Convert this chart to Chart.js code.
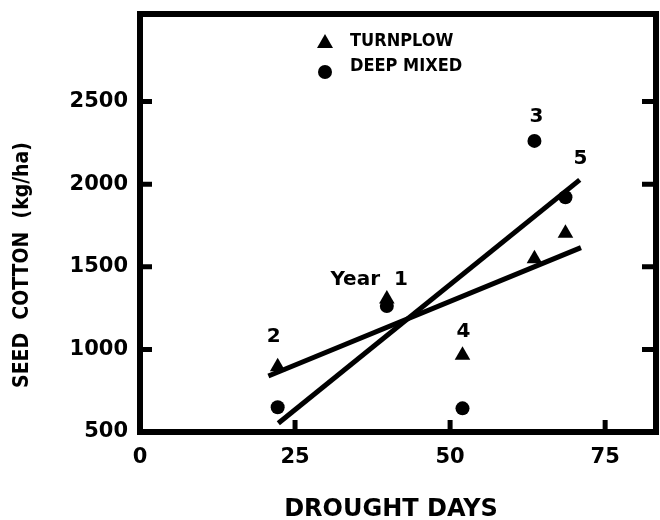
<!DOCTYPE html>
<html>
<head>
<meta charset="utf-8">
<script src="https://cdn.jsdelivr.net/npm/chart.js@4/dist/chart.umd.min.js"></script>
<style>
  html, body { margin: 0; padding: 0; background: #fff; }
</style>
</head>
<body>
<canvas id="myChart" width="660" height="520"></canvas>
<script>
// values
const years = ['1', '2', '3', '4', '5'];
const droughtDays = [39.8, 22.2, 63.6, 52.0, 68.6];
const turnplowYield = [1305, 895, 1548, 965, 1703];
const deepMixedYield = [1263, 650, 2262, 643, 1921];

// fitted lines, end points
const turnplowFitDays = [20.7, 71.1];
const turnplowFitYield = [839, 1616];
const deepMixedFitDays = [22.3, 70.9];
const deepMixedFitYield = [553, 2026];

const xTicks = [0, 25, 50, 75];
const yTicks = [500, 1000, 1500, 2000, 2500];

const FONT = "'DejaVu Sans', sans-serif";
const COND = "'DejaVu Sans Condensed', 'DejaVu Sans', sans-serif";

const toPoints = (xs, ys) => xs.map((x, i) => ({ x: x, y: ys[i] }));

// year labels, pixel offsets from the upper point of each year
const labelOffsets = [[21, -19, 'right'], [-4, -30, 'center'], [2, -24, 'center'], [1, -23, 'center'], [15, -38, 'center']];

const noPadding = s => {
  s.paddingTop = 0; s.paddingBottom = 0;
  s.paddingLeft = 0; s.paddingRight = 0;
};

const decorations = {
  id: 'decorations',
  beforeDraw(chart) {
    const { ctx } = chart;
    ctx.save();
    ctx.fillStyle = '#fff';
    ctx.fillRect(0, 0, chart.width, chart.height);
    ctx.restore();
  },
  afterDraw(chart) {
    const { ctx, chartArea: a, scales: { x, y } } = chart;
    ctx.save();
    ctx.strokeStyle = '#000';
    ctx.fillStyle = '#000';

    // top and right side of the box
    ctx.lineWidth = 6;
    ctx.beginPath();
    ctx.moveTo(a.left - 3, a.top);
    ctx.lineTo(a.right, a.top);
    ctx.lineTo(a.right, a.bottom + 3);
    ctx.stroke();

    // ticks pointing inward
    ctx.lineWidth = 5;
    ctx.beginPath();
    y.ticks.forEach(t => {
      if (t.value <= y.min) return;
      const py = y.getPixelForValue(t.value);
      ctx.moveTo(a.left, py); ctx.lineTo(a.left + 12, py);
      ctx.moveTo(a.right, py); ctx.lineTo(a.right - 14, py);
    });
    x.ticks.forEach(t => {
      if (t.value <= x.min) return;
      const px = x.getPixelForValue(t.value);
      ctx.moveTo(px, a.bottom); ctx.lineTo(px, a.bottom - 12);
    });
    ctx.stroke();

    // year labels
    ctx.textBaseline = 'middle';
    years.forEach((yr, i) => {
      const top = Math.max(turnplowYield[i], deepMixedYield[i]);
      const px = x.getPixelForValue(droughtDays[i]);
      const py = y.getPixelForValue(top);
      const [dx, dy, align] = labelOffsets[i];
      ctx.textAlign = align;
      ctx.font = 'bold 20px ' + FONT;
      ctx.fillText(i === 0 ? 'Year  ' + yr : yr, px + dx, py + dy);
    });

    // legend
    ctx.font = 'bold 18px ' + COND;
    ctx.textAlign = 'left';
    ctx.beginPath();
    ctx.moveTo(325, 34); ctx.lineTo(333, 48); ctx.lineTo(317, 48); ctx.closePath();
    ctx.fill();
    ctx.fillText('TURNPLOW', 350, 41);
    ctx.beginPath();
    ctx.arc(325, 72, 7, 0, Math.PI * 2);
    ctx.fill();
    ctx.fillText('DEEP MIXED', 350, 66);

    // axis titles
    ctx.textAlign = 'center';
    ctx.font = 'bold 24px ' + FONT;
    ctx.fillText('DROUGHT DAYS', 391, 510);

    ctx.translate(23, 265);
    ctx.rotate(-Math.PI / 2);
    ctx.font = 'bold 21px ' + COND;
    ctx.fillText('SEED  COTTON  (kg/ha)', 0, 0);
    ctx.restore();
  }
};

const ctx = document.getElementById('myChart');

new Chart(ctx, {
  type: 'scatter',
  data: {
    datasets: [
      {
        label: 'TURNPLOW',
        data: toPoints(droughtDays, turnplowYield),
        pointStyle: 'triangle',
        pointRadius: 9,
        backgroundColor: '#000',
        borderColor: '#000',
        borderWidth: 0
      },
      {
        label: 'DEEP MIXED',
        data: toPoints(droughtDays, deepMixedYield),
        pointStyle: 'circle',
        pointRadius: 7,
        backgroundColor: '#000',
        borderColor: '#000',
        borderWidth: 0
      },
      {
        label: 'turnplow fit',
        data: toPoints(turnplowFitDays, turnplowFitYield),
        showLine: true,
        pointRadius: 0,
        borderColor: '#000',
        borderWidth: 5
      },
      {
        label: 'deep mixed fit',
        data: toPoints(deepMixedFitDays, deepMixedFitYield),
        showLine: true,
        pointRadius: 0,
        borderColor: '#000',
        borderWidth: 5
      }
    ]
  },
  options: {
    responsive: false,
    animation: false,
    devicePixelRatio: 1,
    layout: { autoPadding: false, padding: { top: 14, right: 4, left: 0, bottom: 0 } },
    plugins: {
      legend: { display: false },
      tooltip: { enabled: false }
    },
    scales: {
      x: {
        type: 'linear',
        min: 0,
        max: 83.2,
        grid: { display: false, drawTicks: false },
        border: { display: true, color: '#000', width: 6 },
        ticks: {
          color: '#000',
          padding: 13,
          font: { family: FONT, size: 21, weight: 'bold' },
          callback: v => String(v)
        },
        afterBuildTicks: s => { s.ticks = xTicks.map(v => ({ value: v })); },
        afterFit: s => { s.height = 88; noPadding(s); }
      },
      y: {
        type: 'linear',
        min: 500,
        max: 3030,
        grid: { display: false, drawTicks: false },
        border: { display: true, color: '#000', width: 6 },
        ticks: {
          color: '#000',
          padding: 12,
          font: { family: FONT, size: 21, weight: 'bold' },
          callback: v => String(v)
        },
        afterBuildTicks: s => { s.ticks = yTicks.map(v => ({ value: v })); },
        afterFit: s => { s.width = 140; noPadding(s); }
      }
    }
  },
  plugins: [decorations]
});
</script>
</body>
</html>
